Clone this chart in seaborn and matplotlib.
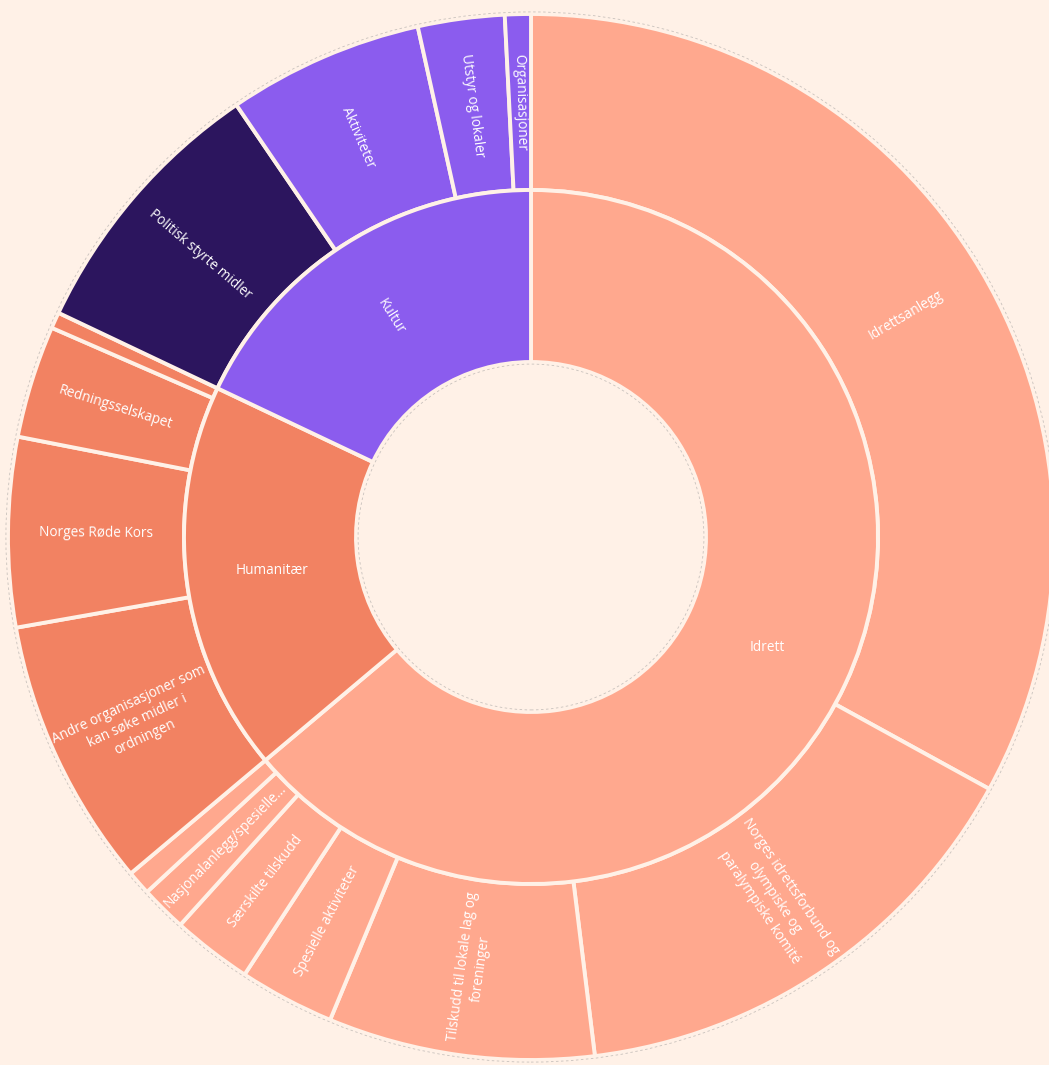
import numpy as np
import matplotlib
matplotlib.use("Agg")
import matplotlib.pyplot as plt
import seaborn as sns
from matplotlib.patches import Circle

# Data (mill. kr)
groups = ["Idrett", "Humanitær", "Kultur"]

idrett_labels = ["Idrettsanlegg",
                 "Norges idrettsforbund og\nolympiske og\nparalympiske komité",
                 "Tilskudd til lokale lag og\nforeninger",
                 "Spesielle aktiviteter", "Særskilte tilskudd",
                 "Nasjonalanlegg/spesielle anlegg", "Andre formål"]
idrett_values = [1320, 602, 329, 118, 99, 57, 30]

humanitaer_labels = ["Andre organisasjoner som\nkan søke midler i\nordningen",
                     "Norges Røde Kors", "Redningsselskapet", "Øvrige"]
humanitaer_values = [334, 234, 139, 20]

kultur_labels = ["Politisk styrte midler", "Aktiviteter",
                 "Utstyr og lokaler", "Organisasjoner"]
kultur_values = [337, 242, 107, 32]

bg = "#FFF1E7"
group_colors = {"Idrett": "#FFA88E", "Humanitær": "#F28262", "Kultur": "#8B5CEE"}
special_colors = {"Politisk styrte midler": "#2C155E"}

sns.set_theme(style="white")
plt.rcParams["font.family"] = ["Open Sans", "DejaVu Sans"]

outer_labels = idrett_labels + humanitaer_labels + kultur_labels
outer_values = idrett_values + humanitaer_values + kultur_values
outer_parent = (["Idrett"] * len(idrett_values) + ["Humanitær"] * len(humanitaer_values)
                + ["Kultur"] * len(kultur_values))
inner_values = [sum(idrett_values), sum(humanitaer_values), sum(kultur_values)]

outer_colors = [special_colors.get(l, group_colors[p]) for l, p in zip(outer_labels, outer_parent)]
inner_colors = [group_colors[g] for g in groups]

fig = plt.figure(figsize=(10.49, 10.65), dpi=100, facecolor=bg)
ax = fig.add_axes([0, 0, 1, 1])
ax.set_facecolor(bg)

R_out, R_mid, R_in = 1.0, 347 / 523, 175 / 523
edge = dict(edgecolor=bg, linewidth=2.8)

w_out, _ = ax.pie(outer_values, radius=R_out, colors=outer_colors, startangle=90,
                  counterclock=False, wedgeprops=dict(width=R_out - R_mid, **edge))
w_in, _ = ax.pie(inner_values, radius=R_mid, colors=inner_colors, startangle=90,
                 counterclock=False, wedgeprops=dict(width=R_mid - R_in, **edge))

for r in (R_in - 0.004, R_out + 0.004):
    ax.add_patch(Circle((0, 0), r, fill=False, ec="#c9c2bd", lw=0.6, ls=(0, (3, 3))))


def radial_rot(a):
    a = (a + 180) % 360 - 180
    if a > 90:
        a -= 180
    elif a < -90:
        a += 180
    return a


def put_label(w, text, r, horizontal=False):
    span = w.theta2 - w.theta1
    if span < 2.8:
        return
    if span < 6 and len(text) > 24:
        text = text[:24] + "..."
    mid = np.deg2rad((w.theta1 + w.theta2) / 2)
    rot = 0 if horizontal else radial_rot(np.rad2deg(mid))
    ax.text(r * np.cos(mid), r * np.sin(mid), text, rotation=rot,
            rotation_mode="anchor", ha="center", va="center",
            color="white", fontsize=9.8, linespacing=1.3)


for w, lab in zip(w_out, outer_labels):
    put_label(w, lab, (R_out + R_mid) / 2)
for w, lab in zip(w_in, groups):
    put_label(w, lab, (R_mid + R_in) / 2, horizontal=lab in ("Idrett", "Humanitær"))

ax.set_aspect("equal")
ax.set_xlim(-531 / 523, (1049 - 531) / 523)
ax.set_ylim(-(1065 - 537) / 523, 537 / 523)
ax.axis("off")

fig.savefig("out.png", dpi=100, facecolor=bg)
